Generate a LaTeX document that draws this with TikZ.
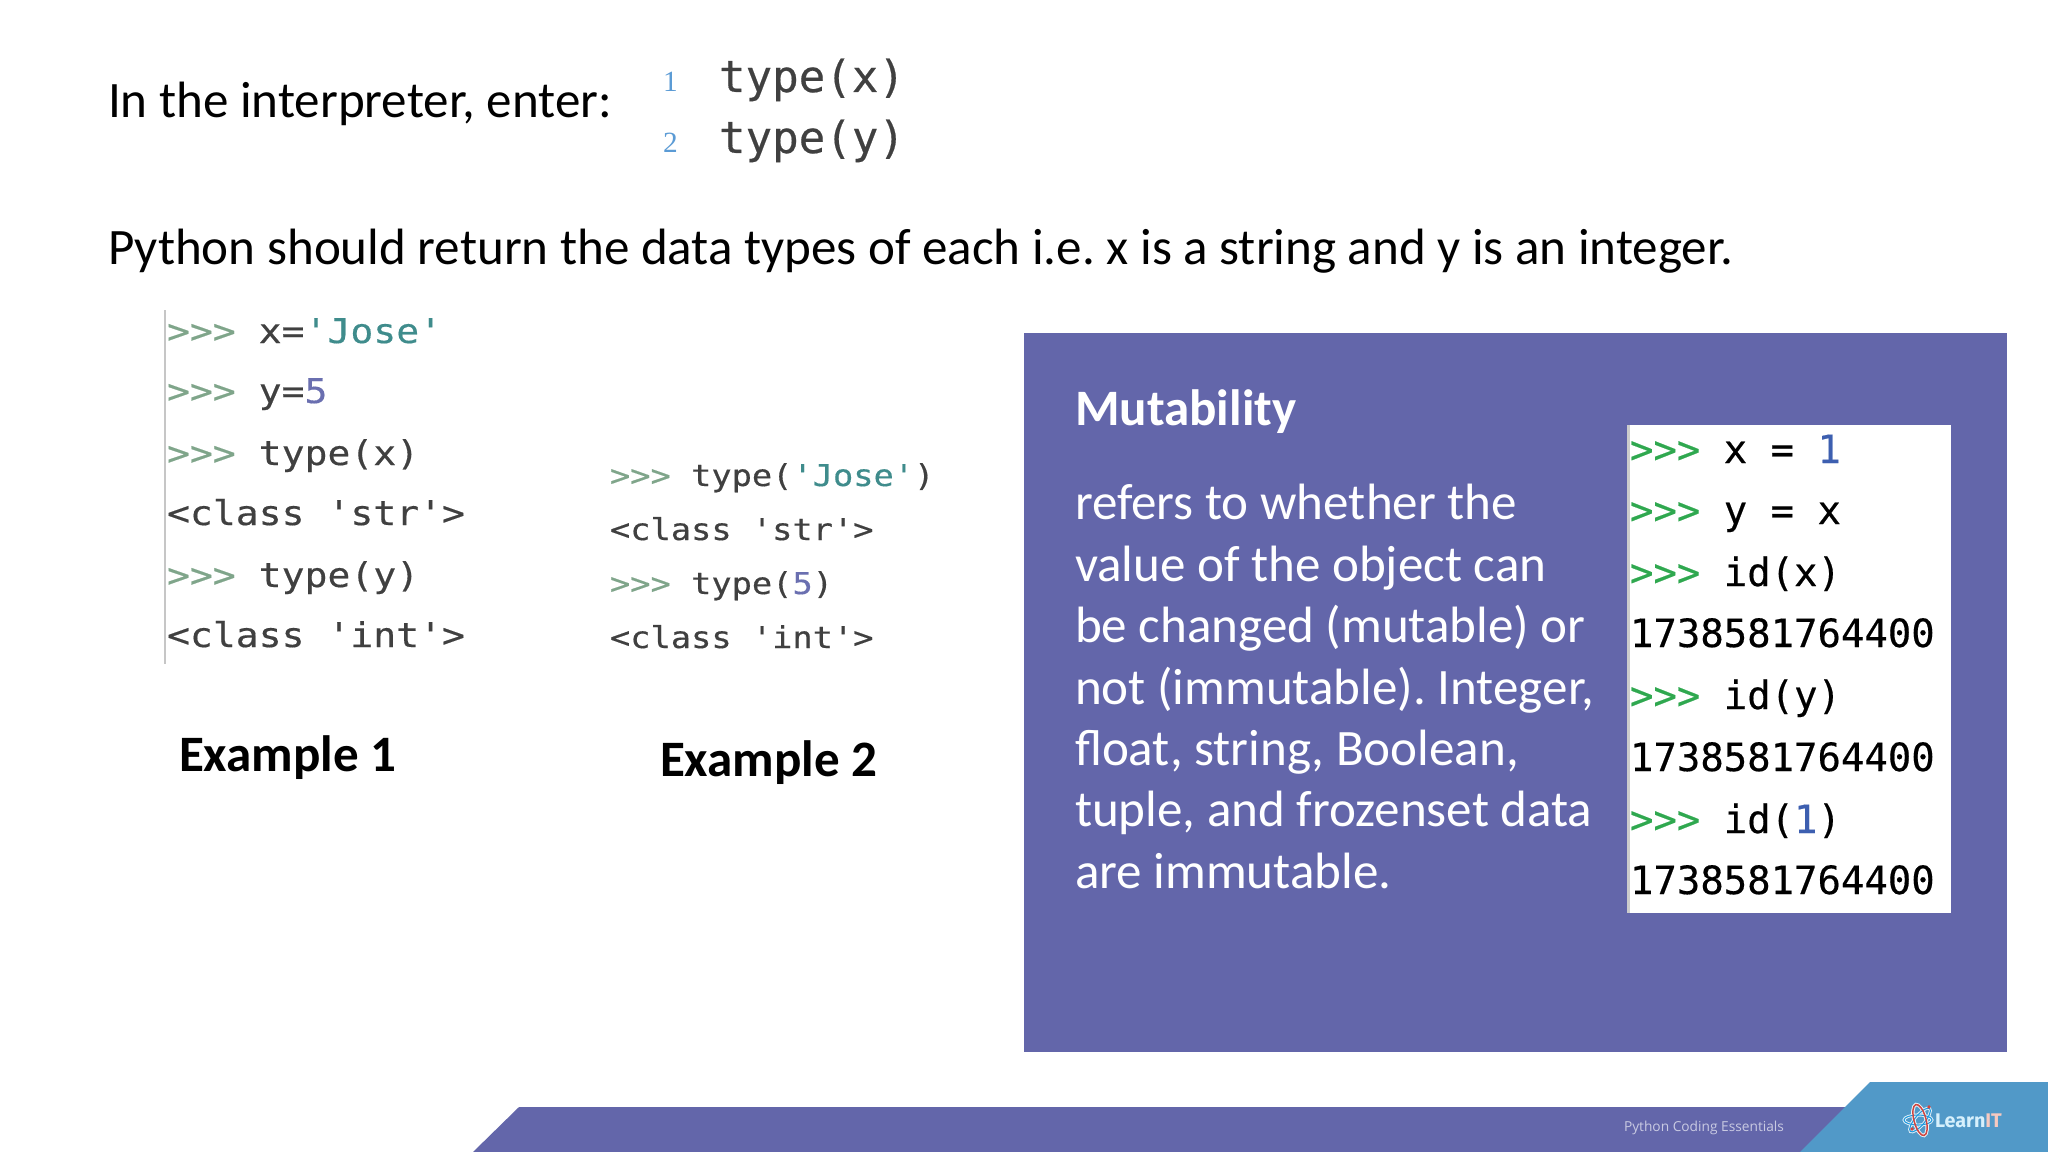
\documentclass[tikz,border=0pt]{standalone}
\usepackage{fontspec}
\setmainfont{Carlito}
\newfontfamily\codeA[FakeStretch=1.12,FakeBold=0.4]{DejaVu Sans Mono}
\newfontfamily\codeB[FakeBold=0.4]{DejaVu Sans Mono}
\newfontfamily\footfont{Open Sans}
\newfontfamily\logofont{Fira Sans}
\newfontfamily\numfont{Liberation Serif}
\definecolor{panel}{HTML}{6366AA}
\definecolor{sky}{HTML}{5199C8}
\definecolor{prompt}{HTML}{7FA58A}
\definecolor{codegray}{HTML}{404040}
\definecolor{jose}{HTML}{3F8C8C}
\definecolor{numb}{HTML}{6A6FB0}
\definecolor{lineno}{HTML}{5B9BD5}
\definecolor{greenp}{HTML}{2FA84F}
\definecolor{oneblue}{HTML}{3D5FB0}
\definecolor{lav}{HTML}{C9CAE2}
\definecolor{logoblue}{HTML}{1F9BE0}
\definecolor{logored}{HTML}{D0453F}
\definecolor{logotextA}{HTML}{D6F0FC}
\definecolor{logotextB}{HTML}{F6C9C0}
\newcommand{\pr}{\textcolor{prompt}{>>>}}
\newcommand{\prb}{\textcolor{greenp}{>>>}}
\tikzset{
  txt/.style={anchor=base west,inner sep=0pt,outer sep=0pt},
  body/.style={txt,font=\fontsize{38.3}{38}\selectfont\frenchspacing},
  bodybold/.style={txt,font=\fontsize{38.3}{38}\selectfont\bfseries},
  whitebody/.style={body,text=white},
  exa/.style={txt,font=\fontsize{25.5}{26}\selectfont\codeA,text=codegray},
  exb/.style={txt,font=\fontsize{22.55}{23}\selectfont\codeA,text=codegray},
  exc/.style={txt,font=\fontsize{29.2}{29}\selectfont\codeB,text=black},
  top/.style={txt,font=\fontsize{33.1}{33}\selectfont\codeB,text=codegray},
  lnum/.style={txt,font=\fontsize{22}{22}\selectfont\numfont,text=lineno},
}
\begin{document}
\begin{tikzpicture}[x=0.75pt,y=-0.75pt]
\useasboundingbox (0,0) rectangle (2048,1152);
\fill[white] (0,0) rectangle (2048,1152);
% top text
\node[body] (intro) at (108,118) {In the interpreter, enter:};
\node[lnum] (n1) at (663,92) {1};
\node[lnum] (n2) at (663,153) {2};
\node[top] (t1) at (719,92) {type(x)};
\node[top] (t2) at (719,153) {type(y)};
\node[body] (ret) at (108,264) {Python should return the data types of each i.e. x is a string and y is an integer.};
% example 1
\draw[gray!45,line width=1.5pt] (165,310) -- (165,664);
\node[exa] (a1) at (167,343) {\pr{} x=\textcolor{jose}{'Jose'}};
\node[exa] (a2) at (167,403) {\pr{} y=\textcolor{numb}{5}};
\node[exa] (a3) at (167,465) {\pr{} type(x)};
\node[exa] (a4) at (167,525) {<class 'str'>};
\node[exa] (a5) at (167,587) {\pr{} type(y)};
\node[exa] (a6) at (167,647) {<class 'int'>};
% example 2
\node[exb] (b1) at (610,486) {\pr{} type(\textcolor{jose}{'Jose'})};
\node[exb] (b2) at (610,540) {<class 'str'>};
\node[exb] (b3) at (610,594) {\pr{} type(\textcolor{numb}{5})};
\node[exb] (b4) at (610,648) {<class 'int'>};
\node[bodybold] (e1) at (179,771) {Example 1};
\node[bodybold] (e2) at (660,776) {Example 2};
% panel
\fill[panel] (1024,333) rectangle (2007,1052);
\node[bodybold,text=white] (mt) at (1075,425) {Mutability};
\node[whitebody] (m1) at (1075,519) {refers to whether the};
\node[whitebody] (m2) at (1075,581) {value of the object can};
\node[whitebody] (m3) at (1075,642) {be changed (mutable) or};
\node[whitebody] (m4) at (1075,704) {not (immutable). Integer,};
\node[whitebody] (m5) at (1075,765) {float, string, Boolean,};
\node[whitebody] (m6) at (1075,826) {tuple, and frozenset data};
\node[whitebody] (m7) at (1075,888) {are immutable.};
\fill[white] (1627,425) rectangle (1951,913);
\fill[gray!40] (1627,425) rectangle (1630,913);
\node[exc] (c1) at (1630,463) {\prb{} x = \textcolor{oneblue}{1}};
\node[exc] (c2) at (1630,524) {\prb{} y = x};
\node[exc] (c3) at (1630,586) {\prb{} id(x)};
\node[exc] (c4) at (1630,647) {1738581764400};
\node[exc] (c5) at (1630,709) {\prb{} id(y)};
\node[exc] (c6) at (1630,771) {1738581764400};
\node[exc] (c7) at (1630,833) {\prb{} id(\textcolor{oneblue}{1})};
\node[exc] (c8) at (1630,894) {1738581764400};
% footer
\fill[panel] (519,1107) -- (1850,1107) -- (1850,1152) -- (473,1152) -- cycle;
\fill[sky] (1870,1082) -- (2048,1082) -- (2048,1152) -- (1800,1152) -- cycle;
\node[txt,font=\fontsize{10.3}{10}\selectfont\footfont,text=lav] (ft) at (1624,1131) {Python Coding Essentials};
% logo
\begin{scope}[shift={(1920,1120)}]
\draw[white!85!sky,line width=2.2pt] (-2,0) ellipse [x radius=14,y radius=5];
\draw[white!85!sky,line width=2.2pt,rotate=50] (0,0) ellipse [x radius=15,y radius=5];
\draw[white!85!sky,line width=2.6pt,rotate=-75] (0,0) ellipse [x radius=16,y radius=6];
\draw[logoblue,line width=.8pt] (-2,0) ellipse [x radius=14,y radius=5];
\draw[logoblue,line width=.8pt,rotate=50] (0,0) ellipse [x radius=15,y radius=5];
\draw[logored,line width=1.1pt,rotate=-75] (0,0) ellipse [x radius=16,y radius=6];
\fill[logored] (-8,9) circle (1.8) (9,-13) circle (1.8);
\end{scope}
\node[txt,font=\fontsize{14.8}{15}\selectfont\logofont\bfseries] (logo) at (1935,1127) {\textcolor{logotextA}{Learn}\textcolor{logotextB}{IT}};
\end{tikzpicture}
\end{document}
